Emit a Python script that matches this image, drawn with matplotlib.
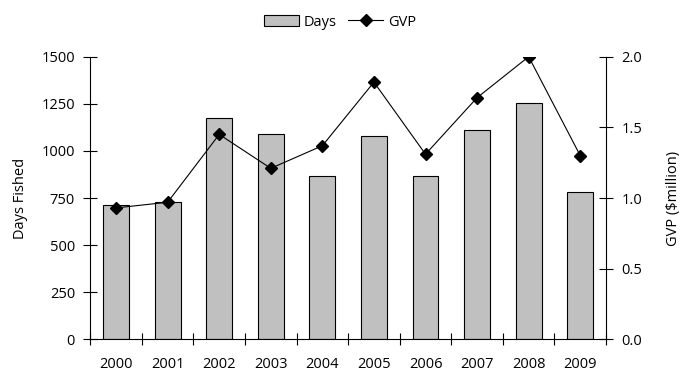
import matplotlib
matplotlib.use("Agg")
import matplotlib.pyplot as plt
import numpy as np

years = ["2000", "2001", "2002", "2003", "2004", "2005", "2006", "2007", "2008", "2009"]
days = [711, 727, 1173, 1088, 869, 1077, 869, 1109, 1253, 784]
gvp = [0.93, 0.97, 1.45, 1.21, 1.37, 1.82, 1.31, 1.71, 2.00, 1.30]
left_ticks = [0, 250, 500, 750, 1000, 1250, 1500]
right_ticks = [0.0, 0.5, 1.0, 1.5, 2.0]

plt.rcParams['font.family'] = ['Open Sans', 'DejaVu Sans']
FS = 10.5

fig = plt.figure(figsize=(6.81, 3.73), dpi=100)
ax = fig.add_axes([0.1326, 0.0903, 0.8899 - 0.1326, 0.848 - 0.0903])
x = np.arange(len(years))
bars = ax.bar(x, days, width=0.5, color='#C0C0C0', edgecolor='black', linewidth=0.8, label='Days', zorder=2)
ax.set_xlim(-0.5, len(years) - 0.5)
ax.set_ylim(0, 1500)
ax.set_yticks(left_ticks)
ax.set_yticklabels([str(t) for t in left_ticks], fontsize=FS)
ax.set_xticks(np.arange(len(years) + 1) - 0.5)
ax.set_xticklabels([])
ax.set_xticks(x, minor=True)
ax.set_xticklabels(years, minor=True, fontsize=FS)
ax.tick_params(axis='x', which='minor', length=0, pad=12.5)
ax.tick_params(axis='x', which='major', direction='inout', length=9, width=0.8)
ax.tick_params(axis='y', direction='inout', length=10, width=0.8, pad=6)
ax.spines['top'].set_visible(False)
ax.spines['right'].set_visible(False)
for s in ['left', 'bottom']:
    ax.spines[s].set_linewidth(0.8)
ax.set_ylabel('Days Fished', fontsize=FS, labelpad=10)

ax2 = ax.twinx()
line, = ax2.plot(x, gvp, color='black', linewidth=0.8, marker='D', markersize=6.5, label='GVP', zorder=3)
ax2.set_ylim(0, 2.0)
ax2.set_yticks(right_ticks)
ax2.set_yticklabels([f"{t:.1f}" for t in right_ticks], fontsize=FS)
ax2.tick_params(axis='y', direction='inout', length=10, width=0.8, pad=6)
ax2.spines['top'].set_visible(False)
ax2.spines['left'].set_visible(False)
ax2.spines['bottom'].set_visible(False)
ax2.spines['right'].set_linewidth(0.8)
ax2.set_ylabel('GVP ($million)', fontsize=FS, labelpad=17)

fig.legend([bars, line], ['Days', 'GVP'], loc='center', bbox_to_anchor=(340 / 681, 1 - 22 / 373),
           ncol=2, frameon=False, fontsize=FS, handlelength=2.4, columnspacing=0.8, handletextpad=0.3)

fig.savefig('out.png', dpi=100)
